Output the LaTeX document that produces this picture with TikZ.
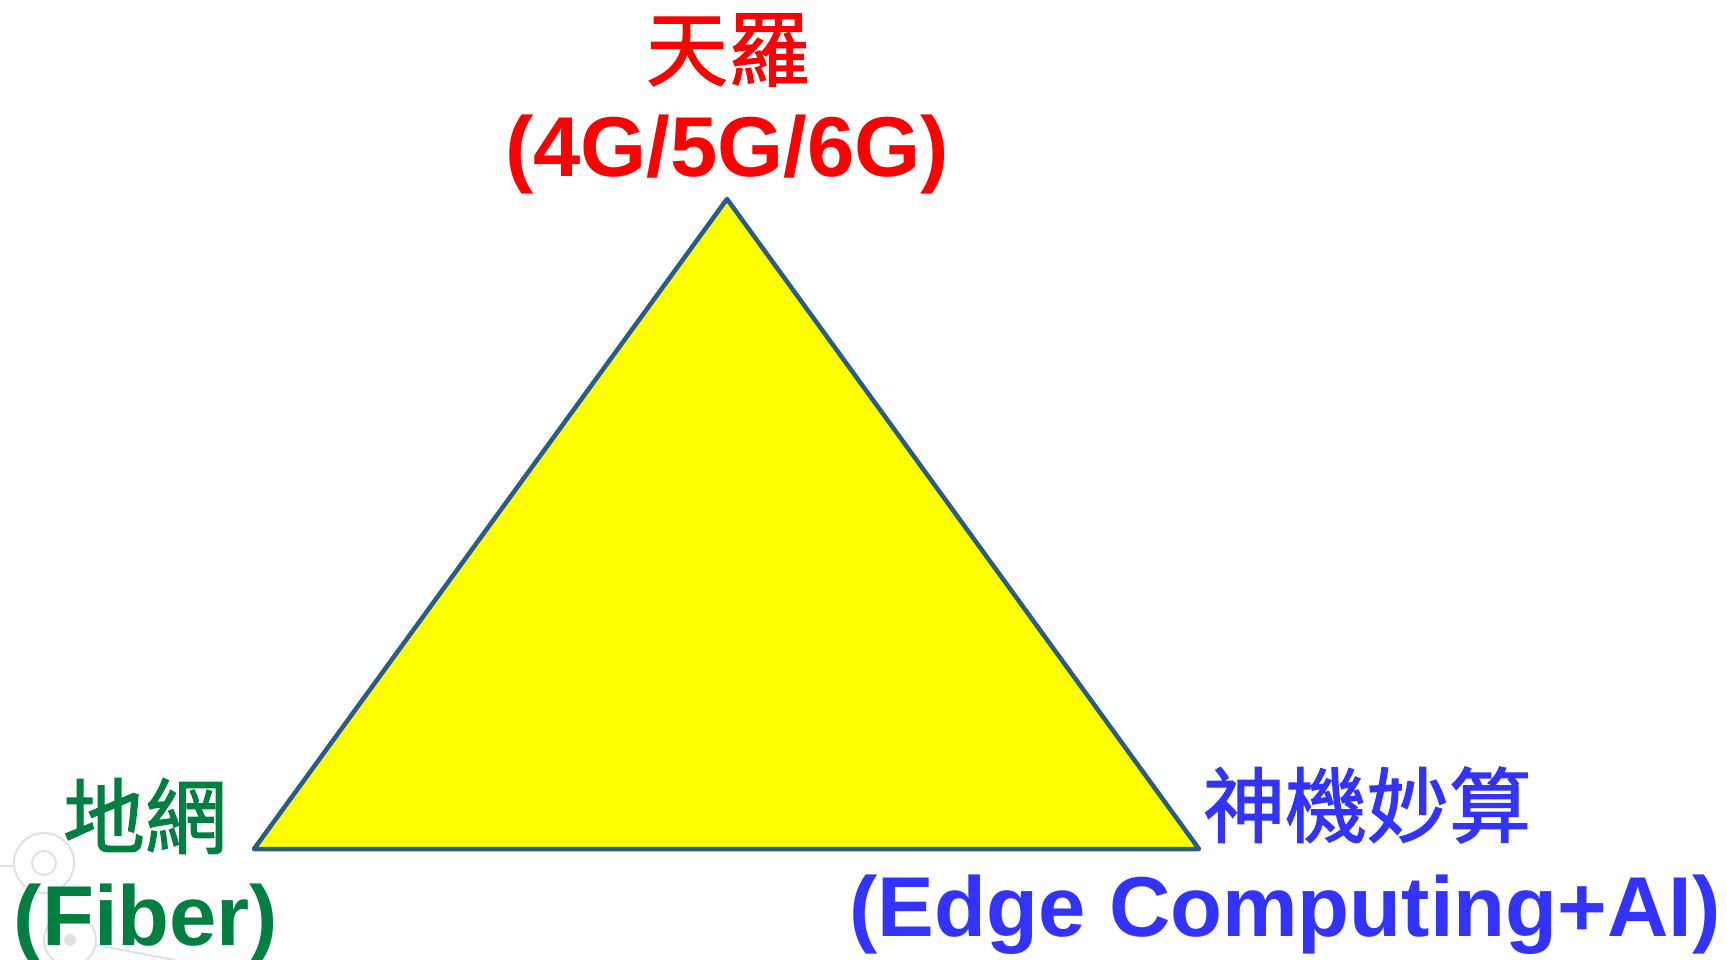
\documentclass[tikz,border=0pt]{standalone}
\usepackage{fontspec}
\setmainfont{Liberation Sans}
\newfontfamily\cjk[FakeBold=1.6]{Noto Sans CJK TC}
\definecolor{tred}{RGB}{255,0,0}
\definecolor{tgreen}{RGB}{0,128,64}
\definecolor{tblue}{RGB}{51,51,255}
\definecolor{tedge}{RGB}{42,92,138}
\definecolor{tyellow}{RGB}{255,255,0}
\definecolor{tfaint}{RGB}{222,226,231}
\tikzset{
  latin/.style={inner sep=0pt, anchor=base, font=\fontsize{85}{100}\selectfont\bfseries},
  cjklabel/.style={inner sep=0pt, anchor=center, font=\fontsize{82}{100}\selectfont\cjk},
  tri/.style={draw=tedge, line width=4.5pt, fill=tyellow, line join=round},
  deco/.style={draw=tfaint, line width=2pt}
}
\begin{document}
\begin{tikzpicture}[x=1pt,y=-1pt]
\useasboundingbox (0,0) rectangle (1727,960);
% faint background decoration
\draw[deco] (0,866) -- (14,866);
\draw[deco] (44,863) circle[radius=30];
\draw[deco] (44,863) circle[radius=12];
\draw[deco] (70,940) circle[radius=26];
\fill[tfaint] (70,940) circle[radius=6];
\draw[deco] (96,945) -- (175,960);
% triangle
\coordinate (top) at (727,199);
\coordinate (bl) at (254,849);
\coordinate (br) at (1199,849);
\draw[tri] (top) -- (br) -- (bl) -- cycle;
% labels
\node[cjklabel, text=tred] (tianluo) at (728,50) {天羅};
\node[latin, text=tred] (g456) at (727,177) {(4G/5G/6G)};
\node[cjklabel, text=tgreen] (diwang) at (145,816) {地網};
\node[latin, text=tgreen] (fiber) at (146,945) {(Fiber)};
\node[cjklabel, text=tblue] (shenji) at (1367,805) {神機妙算};
\node[latin, text=tblue] (edge) at (1285,936) {(Edge Computing+AI)};
\end{tikzpicture}
\end{document}
